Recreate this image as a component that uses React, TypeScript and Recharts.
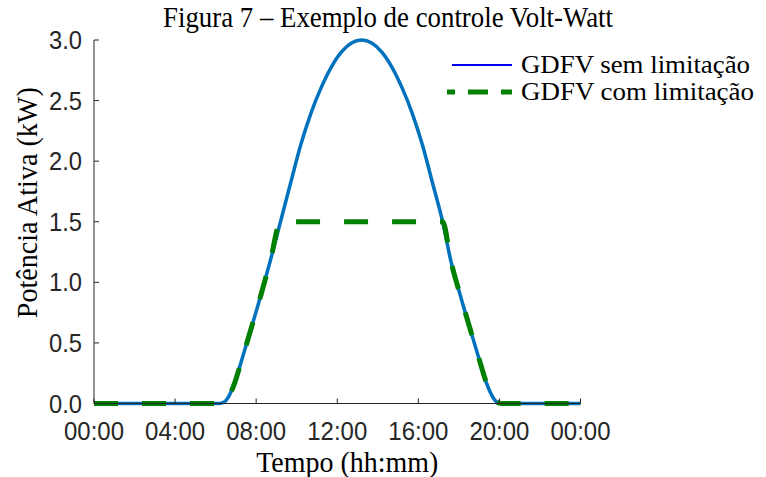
import React from 'react';
import { LineChart, Line, XAxis, YAxis, Label } from 'recharts';

// ---- data ----
const hours = [0, 2, 4, 5, 6.2, 6.45, 6.7, 6.95, 7.2, 7.7, 8.2, 8.7, 9.2, 9.7, 10.2, 10.7, 11.2, 11.7, 12.2, 12.7, 13.2, 13.7, 14.2, 14.7, 15.2, 15.7, 16.2, 16.7, 17.2, 17.6, 18.1, 18.6, 19.1, 19.35, 19.6, 19.85, 20.1, 22, 24];
const semLimitacao = [0, 0, 0, 0, 0, 0.015, 0.075, 0.175, 0.31, 0.59, 0.875, 1.18, 1.5, 1.82, 2.135, 2.395, 2.605, 2.775, 2.9, 2.975, 3.0, 2.975, 2.9, 2.775, 2.605, 2.395, 2.135, 1.82, 1.5, 1.18, 0.875, 0.59, 0.31, 0.175, 0.075, 0.015, 0, 0, 0];
const limite = 1.5;

const xTicks = [0, 4, 8, 12, 16, 20, 24];
const xTickLabels = ['00:00', '04:00', '08:00', '12:00', '16:00', '20:00', '00:00'];
const yTicks = [0, 0.5, 1, 1.5, 2, 2.5, 3];
const yTickLabels = ['0.0', '0.5', '1.0', '1.5', '2.0', '2.5', '3.0'];

const titleText = 'Figura 7 – Exemplo de controle Volt-Watt';
const seriesNames = ['GDFV sem limitação', 'GDFV com limitação'];
const xLabelText = 'Tempo (hh:mm)';
const yLabelText = 'Potência Ativa (kW)';

const data = hours.map((h, i) => ({
  h,
  sem: semLimitacao[i],
  com: Math.min(semLimitacao[i], limite),
}));

const SERIF = "'Liberation Serif', 'Times New Roman', serif";
const SANS = "'Liberation Sans', Arial, sans-serif";
const AXIS = '#262626';

const XTick = (props: any) => {
  const { x, y, payload } = props;
  const label = xTickLabels[xTicks.indexOf(payload.value)];
  return (
    <text x={x} y={y + 36} textAnchor="middle" fontFamily={SANS} fontSize={25} textLength={60} lengthAdjust="spacingAndGlyphs" fill={AXIS}>
      {label}
    </text>
  );
};

const YTick = (props: any) => {
  const { x, y, payload } = props;
  const label = yTickLabels[yTicks.indexOf(payload.value)];
  return (
    <text x={x} y={y + 9} textAnchor="end" fontFamily={SANS} fontSize={25} textLength={33} lengthAdjust="spacingAndGlyphs" fill={AXIS}>
      {label}
    </text>
  );
};

const XLabel = (props: any) => {
  const vb = props.viewBox || { x: 0, y: 0, width: 0, height: 0 };
  return (
    <text x={vb.x + vb.width / 2 + 10} y={vb.y + 68} textAnchor="middle" fontFamily={SERIF} fontSize={30} textLength={182} lengthAdjust="spacingAndGlyphs" fill="#000">
      {xLabelText}
    </text>
  );
};

const YLabel = (props: any) => {
  const vb = props.viewBox || { x: 0, y: 0, width: 0, height: 0 };
  const cx = 37;
  const cy = vb.y + vb.height / 2 - 19;
  return (
    <text x={cx} y={cy} transform={`rotate(-90 ${cx} ${cy})`} textAnchor="middle" fontFamily={SERIF} fontSize={30} textLength={231} lengthAdjust="spacingAndGlyphs" fill="#000">
      {yLabelText}
    </text>
  );
};

export default function App() {
  return (
    <div style={{ position: 'absolute', left: 0, top: 0, width: 766, height: 477, background: '#fff' }}>
      <LineChart width={766} height={477} data={data} margin={{ top: 40, right: 185.5, left: 0, bottom: 0 }}>
        <XAxis
          dataKey="h"
          type="number"
          domain={[0, 24]}
          ticks={xTicks}
          interval={0}
          height={73.5}
          tickSize={-5}
          tickMargin={5}
          tick={<XTick />}
          axisLine={{ stroke: AXIS, strokeWidth: 1 }}
          tickLine={{ stroke: AXIS, strokeWidth: 1 }}
        >
          <Label content={<XLabel />} />
        </XAxis>
        <YAxis
          type="number"
          domain={[0, 3]}
          ticks={yTicks}
          interval={0}
          width={94}
          tickSize={-5}
          tickMargin={17}
          tick={<YTick />}
          axisLine={{ stroke: AXIS, strokeWidth: 1 }}
          tickLine={{ stroke: AXIS, strokeWidth: 1 }}
        >
          <Label content={<YLabel />} />
        </YAxis>
        <Line type="monotone" dataKey="sem" stroke="#0072BD" strokeWidth={3.5} dot={false} activeDot={false} isAnimationActive={false} />
        <Line type="monotone" dataKey="com" stroke="#008000" strokeWidth={5} strokeDasharray="24 24" strokeLinecap="butt" dot={false} activeDot={false} isAnimationActive={false} />
      </LineChart>
      <svg width={766} height={477} style={{ position: 'absolute', left: 0, top: 0, pointerEvents: 'none' }}>
        <text x={388} y={27} textAnchor="middle" fontFamily={SERIF} fontSize={30} textLength={450} lengthAdjust="spacingAndGlyphs" fill="#000">
          {titleText}
        </text>
        <line x1={452} x2={512} y1={65} y2={65} stroke="#0000FF" strokeWidth={2} />
        <line x1={447} x2={512} y1={92} y2={92} stroke="#008000" strokeWidth={5} strokeDasharray="20 13" strokeDashoffset={12} />
        <text x={521} y={73} fontFamily={SERIF} fontSize={26} textLength={229} lengthAdjust="spacingAndGlyphs" fill="#000">
          {seriesNames[0]}
        </text>
        <text x={521} y={100} fontFamily={SERIF} fontSize={26} textLength={233} lengthAdjust="spacingAndGlyphs" fill="#000">
          {seriesNames[1]}
        </text>
      </svg>
    </div>
  );
}
